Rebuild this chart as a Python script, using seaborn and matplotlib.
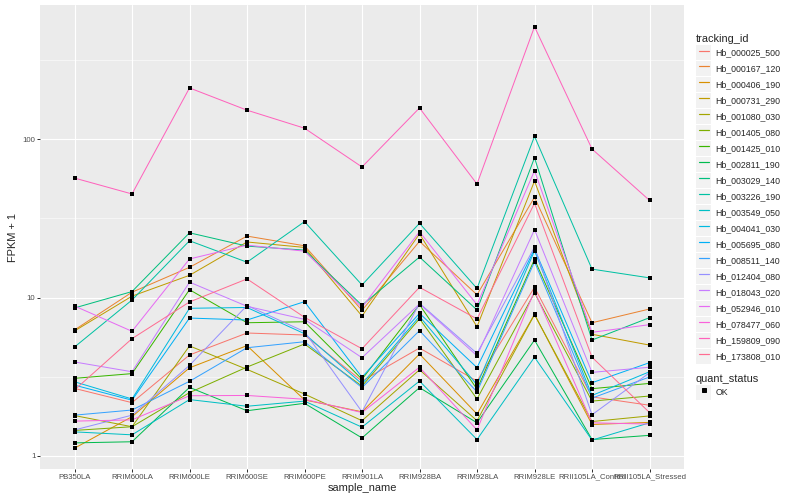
import pandas as pd
import matplotlib
matplotlib.use("Agg")
import matplotlib.pyplot as plt
from matplotlib.lines import Line2D
from matplotlib.patches import Rectangle
from matplotlib.legend_handler import HandlerLine2D
from matplotlib.ticker import FixedLocator, NullFormatter, FuncFormatter
import seaborn as sns

# --- dados (FPKM + 1) ---
sample_names = ["PB350LA", "RRIM600LA", "RRIM600LE", "RRIM600SE", "RRIM600PE",
                "RRIM901LA", "RRIM928BA", "RRIM928LA", "RRIM928LE",
                "RRII105LA_Control", "RRII105LA_Stressed"]

tracking_ids = ["Hb_000025_500", "Hb_000167_120", "Hb_000406_190", "Hb_000731_290",
                "Hb_001080_030", "Hb_001405_080", "Hb_001425_010", "Hb_002811_190",
                "Hb_003029_140", "Hb_003226_190", "Hb_003549_050", "Hb_004041_030",
                "Hb_005695_080", "Hb_008511_140", "Hb_012404_080", "Hb_018043_020",
                "Hb_052946_010", "Hb_078477_060", "Hb_159809_090", "Hb_173808_010"]

hb_000025_500 = [2.67, 2.17, 4.34, 5.97, 5.80, 2.97, 4.80, 2.97, 11.6, 2.36, 2.09]
hb_000167_120 = [6.24, 10.8, 15.5, 24.4, 21.2, 8.3, 22.6, 10.4, 42.9, 6.93, 8.46]
hb_000406_190 = [1.12, 1.77, 3.6, 4.97, 2.26, 1.90, 4.40, 1.84, 7.83, 1.58, 1.63]
hb_000731_290 = [6.15, 10.2, 13.8, 22.4, 20.7, 7.64, 25.2, 6.54, 54.3, 5.86, 5.01]
hb_001080_030 = [1.80, 1.53, 4.95, 3.52, 2.46, 1.67, 3.5, 1.67, 7.8, 1.65, 1.79]
hb_001405_080 = [1.45, 1.53, 2.51, 3.64, 5.09, 2.76, 7.35, 2.29, 10.7, 2.22, 2.39]
hb_001425_010 = [3.09, 3.31, 11.2, 6.93, 7.03, 3.05, 9.01, 2.64, 17.4, 2.66, 2.87]
hb_002811_190 = [1.21, 1.23, 2.71, 1.93, 2.15, 1.30, 2.70, 1.62, 5.39, 1.27, 1.35]
hb_003029_140 = [8.59, 10.9, 25.6, 21.1, 19.9, 8.93, 18.0, 8.34, 76.2, 5.39, 7.46]
hb_003226_190 = [4.87, 9.64, 22.8, 16.7, 30.1, 12.0, 29.4, 11.4, 104, 15.1, 13.3]
hb_003549_050 = [1.42, 1.36, 2.27, 2.06, 2.22, 1.52, 2.97, 1.27, 4.20, 1.26, 1.62]
hb_004041_030 = [2.94, 2.29, 8.55, 8.65, 5.91, 2.85, 7.6, 2.81, 19.7, 2.41, 3.4]
hb_005695_080 = [2.8, 2.25, 7.42, 7.21, 9.41, 3.14, 7.95, 3.61, 20.2, 2.9, 3.88]
hb_008511_140 = [1.81, 1.95, 2.96, 4.82, 5.26, 2.7, 6.18, 2.54, 16.8, 2.32, 3.15]
hb_012404_080 = [1.46, 1.81, 3.73, 8.9, 6.09, 1.90, 9.19, 4.44, 20.8, 1.82, 3.35]
hb_018043_020 = [3.92, 3.40, 12.5, 8.8, 7.28, 4.17, 9.10, 4.29, 26.8, 3.37, 3.63]
hb_052946_010 = [8.84, 6.12, 17.5, 21.4, 19.6, 8.67, 26.0, 9.0, 63.1, 6.03, 6.74]
hb_078477_060 = [1.66, 1.69, 2.40, 2.41, 2.28, 1.88, 3.63, 1.46, 11.0, 1.62, 1.59]
hb_159809_090 = [56.7, 45.0, 210, 152, 117, 66.6, 157, 52.0, 511, 86.5, 41.0]
hb_173808_010 = [2.61, 5.50, 9.37, 13.1, 7.50, 4.75, 11.6, 7.32, 39.3, 4.20, 1.88]

series_values = [hb_000025_500, hb_000167_120, hb_000406_190, hb_000731_290,
                 hb_001080_030, hb_001405_080, hb_001425_010, hb_002811_190,
                 hb_003029_140, hb_003226_190, hb_003549_050, hb_004041_030,
                 hb_005695_080, hb_008511_140, hb_012404_080, hb_018043_020,
                 hb_052946_010, hb_078477_060, hb_159809_090, hb_173808_010]

y_ticks = [1, 10, 100]

# paleta padrão do ggplot (hue_pal com 20 níveis)
hue_colors = ["#F8766D", "#EA8331", "#D89000", "#C09B00", "#A3A500", "#7CAE00",
              "#39B600", "#00BB4E", "#00BF7D", "#00C1A3", "#00BFC4", "#00BAE0",
              "#00B0F6", "#35A2FF", "#9590FF", "#C77CFF", "#E76BF3", "#FA62DB",
              "#FF62BC", "#FF6C91"]

rows = []
for tid, vals in zip(tracking_ids, series_values):
    for s, v in zip(sample_names, vals):
        rows.append({"tracking_id": tid, "sample_name": s, "fpkm": v})
df = pd.DataFrame(rows)


# caixinha cinza atrás de cada chave da legenda (como no ggplot)
class KeyHandler(HandlerLine2D):
    def create_artists(self, legend, orig_handle, xdescent, ydescent,
                       width, height, fontsize, trans):
        box = Rectangle((-xdescent, -ydescent), width, height,
                        facecolor="#F2F2F2", edgecolor="none",
                        transform=trans)
        arts = super().create_artists(legend, orig_handle, xdescent, ydescent,
                                      width, height, fontsize, trans)
        return [box] + list(arts)


# --- estilo parecido com ggplot ---
sns.set_style("darkgrid", {"axes.facecolor": "#EBEBEB", "grid.color": "white"})
plt.rcParams["font.family"] = ["Liberation Sans", "DejaVu Sans"]

fig = plt.figure(figsize=(800 / 72, 500 / 72), dpi=72)
ax = fig.add_axes([40 / 800, 1 - 469 / 500, 644 / 800, 464 / 500])

sns.lineplot(data=df, x="sample_name", y="fpkm", hue="tracking_id",
             hue_order=tracking_ids, palette=hue_colors, sort=False,
             estimator=None, legend=False, linewidth=1.0, ax=ax)
sns.scatterplot(data=df, x="sample_name", y="fpkm", color="black", marker="s",
                s=11, linewidth=0, legend=False, zorder=5, ax=ax)

ax.set_yscale("log")
ax.set_xlim(-0.6, len(sample_names) - 0.4)
ax.set_ylim(10 ** (-13 / 158.5), 10 ** (451 / 158.5))
ax.yaxis.set_major_locator(FixedLocator(y_ticks))
ax.yaxis.set_major_formatter(FuncFormatter(lambda v, p: f"{v:g}"))
ax.yaxis.set_minor_locator(FixedLocator([10 ** 0.5, 10 ** 1.5, 10 ** 2.5]))
ax.yaxis.set_minor_formatter(NullFormatter())

ax.grid(which="major", color="white", linewidth=1.1)
ax.grid(which="minor", axis="y", color="white", linewidth=0.55)
ax.set_axisbelow(True)
for sp in ax.spines.values():
    sp.set_visible(False)
ax.tick_params(which="major", length=2.75, width=1.0, color="#333333",
               labelsize=7.8, labelcolor="#4D4D4D", pad=2)
ax.tick_params(which="minor", length=0)
ax.tick_params(axis="x", bottom=True)
ax.tick_params(axis="y", left=True)

ax.set_xlabel("sample_name", fontsize=11, labelpad=2)
ax.set_ylabel("FPKM + 1", fontsize=11, labelpad=4)

# --- legendas ---
key_h = 2.26
handles = [Line2D([0], [0], color=c, lw=1.2) for c in hue_colors]
leg1 = fig.legend(handles, tracking_ids, title="tracking_id", loc="upper left",
                  bbox_to_anchor=(696 / 800, 1 - 34.5 / 500), frameon=False,
                  fontsize=8.8, title_fontsize=11, handlelength=1.75,
                  handleheight=key_h, handletextpad=0.45, labelspacing=0.1,
                  alignment="left", borderaxespad=0, borderpad=0, numpoints=2,
                  handler_map={Line2D: KeyHandler()})
ok_handle = Line2D([0], [0], ls="none", marker="s", color="black", markersize=3.3)
leg2 = fig.legend([ok_handle], ["OK"], title="quant_status", loc="upper left",
                  bbox_to_anchor=(696 / 800, 1 - 374 / 500), frameon=False,
                  fontsize=8.8, title_fontsize=11, handlelength=1.75,
                  handleheight=key_h, handletextpad=0.45, labelspacing=0.1,
                  alignment="left", borderaxespad=0, borderpad=0, numpoints=1,
                  handler_map={Line2D: KeyHandler()})

fig.savefig("out.png", dpi=72)
